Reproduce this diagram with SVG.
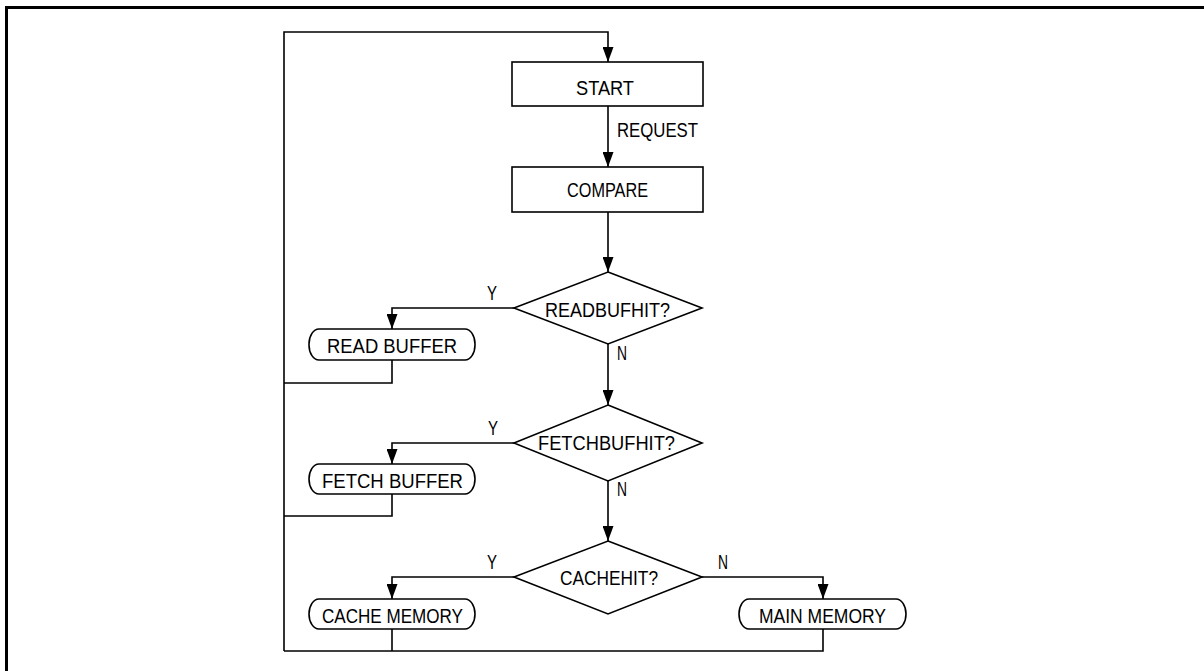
<svg xmlns="http://www.w3.org/2000/svg" width="1204" height="671" viewBox="0 0 1204 671">
<style>
.box{fill:#fff;stroke:#000;stroke-width:1.6}
.ln{fill:none;stroke:#000;stroke-width:1.6}
.t{font-family:"Liberation Sans",Arial,sans-serif;font-size:20px;fill:#000}
.frame{stroke:#000;stroke-width:3;fill:none}
</style>
<defs>
<marker id="arr" viewBox="0 0 11 15" markerWidth="11" markerHeight="15" refX="5.5" refY="15" orient="0" markerUnits="userSpaceOnUse">
<path d="M0,0 L11,0 L5.5,15 z" fill="#000"/>
</marker>
</defs>
<rect width="1204" height="671" fill="#fff"/>
<path class="frame" d="M6.5,671 V7.5 H1204"/>
<g id="connectors">
<path class="ln" d="M284,651 V32 H608 V62" marker-end="url(#arr)"/>
<path class="ln" d="M608,106 V167" marker-end="url(#arr)"/>
<path class="ln" d="M608,212 V272" marker-end="url(#arr)"/>
<path class="ln" d="M514,308 H392 V329" marker-end="url(#arr)"/>
<path class="ln" d="M608,344 V405" marker-end="url(#arr)"/>
<path class="ln" d="M392,360 V383 H284"/>
<path class="ln" d="M514,443 H392 V464" marker-end="url(#arr)"/>
<path class="ln" d="M608,481 V541" marker-end="url(#arr)"/>
<path class="ln" d="M392,494 V516 H284"/>
<path class="ln" d="M514,577 H392 V599" marker-end="url(#arr)"/>
<path class="ln" d="M702,577 H823 V599" marker-end="url(#arr)"/>
<path class="ln" d="M392,629 V651 M823,629 V651 H284"/>
<text class="t" x="617" y="137" textLength="81" lengthAdjust="spacingAndGlyphs">REQUEST</text>
<text class="t" x="487" y="300" textLength="10" lengthAdjust="spacingAndGlyphs">Y</text>
<text class="t" x="617" y="360" textLength="10" lengthAdjust="spacingAndGlyphs">N</text>
<text class="t" x="488" y="435" textLength="10" lengthAdjust="spacingAndGlyphs">Y</text>
<text class="t" x="617" y="496" textLength="10" lengthAdjust="spacingAndGlyphs">N</text>
<text class="t" x="487" y="569" textLength="10" lengthAdjust="spacingAndGlyphs">Y</text>
<text class="t" x="718" y="569" textLength="10" lengthAdjust="spacingAndGlyphs">N</text>
</g>
<g id="start">
<rect class="box" x="512" y="62" width="191" height="44"/>
<text class="t" x="576" y="95" textLength="58" lengthAdjust="spacingAndGlyphs">START</text>
</g>
<g id="compare">
<rect class="box" x="512" y="167" width="191" height="45"/>
<text class="t" x="567" y="197" textLength="81" lengthAdjust="spacingAndGlyphs">COMPARE</text>
</g>
<g id="readbufhit">
<polygon class="box" points="608,272 702,308 608,344 514,308"/>
<text class="t" x="545" y="317" textLength="125" lengthAdjust="spacingAndGlyphs">READBUFHIT?</text>
</g>
<g id="readbuffer">
<rect class="box" x="309" y="329" width="166" height="31" rx="10" ry="15"/>
<text class="t" x="327" y="353" textLength="130" lengthAdjust="spacingAndGlyphs">READ BUFFER</text>
</g>
<g id="fetchbufhit">
<polygon class="box" points="608,405 702,443 608,481 514,443"/>
<text class="t" x="538" y="450" textLength="137" lengthAdjust="spacingAndGlyphs">FETCHBUFHIT?</text>
</g>
<g id="fetchbuffer">
<rect class="box" x="309" y="464" width="166" height="30" rx="10" ry="15"/>
<text class="t" x="322" y="488" textLength="141" lengthAdjust="spacingAndGlyphs">FETCH BUFFER</text>
</g>
<g id="cachehit">
<polygon class="box" points="608,541 702,577 608,614 514,577"/>
<text class="t" x="560" y="585" textLength="98" lengthAdjust="spacingAndGlyphs">CACHEHIT?</text>
</g>
<g id="cachememory">
<rect class="box" x="309" y="599" width="166" height="30" rx="10" ry="15"/>
<text class="t" x="322" y="623" textLength="141" lengthAdjust="spacingAndGlyphs">CACHE MEMORY</text>
</g>
<g id="mainmemory">
<rect class="box" x="739" y="599" width="167" height="30" rx="10" ry="15"/>
<text class="t" x="759" y="623" textLength="127" lengthAdjust="spacingAndGlyphs">MAIN MEMORY</text>
</g>
</svg>
